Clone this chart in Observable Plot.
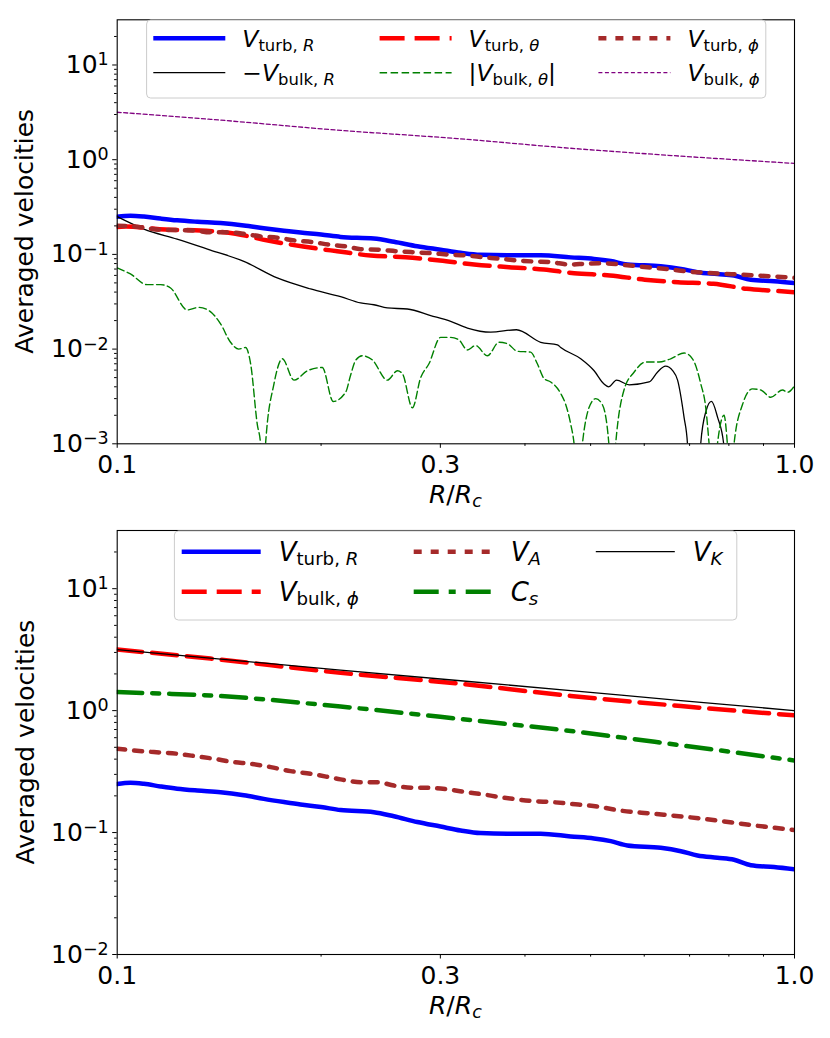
<!DOCTYPE html>
<html>
<head>
<meta charset="utf-8">
<script src="https://cdn.jsdelivr.net/npm/d3@7"></script>
<script src="https://cdn.jsdelivr.net/npm/@observablehq/plot@0.6"></script>
<style>
  body { margin: 0; background: #fff; }
  #chart { width: 830px; }
  #chart svg { display: block; }
</style>
</head>
<body>
<div id="chart"></div>
<script>
// ---------------- data ----------------
// V_turb,R (both panels)
const xTurbR = [0.100, 0.1046, 0.1095, 0.1159, 0.1226, 0.1313, 0.1421, 0.1538, 0.1646, 0.1763, 0.1865, 0.200, 0.2137, 0.2393, 0.2562, 0.2774, 0.3002, 0.3214, 0.3437, 0.3768, 0.422, 0.4674, 0.5058, 0.5354, 0.5666, 0.6345, 0.6795, 0.719, 0.7696, 0.8143, 0.862, 0.933, 1.0];
const vTurbR = [0.250, 0.256, 0.251, 0.239, 0.229, 0.221, 0.214, 0.202, 0.189, 0.178, 0.170, 0.162, 0.153, 0.147, 0.136, 0.122, 0.112, 0.104, 0.099, 0.098, 0.098, 0.093, 0.0895, 0.085, 0.0784, 0.075, 0.0703, 0.0649, 0.0621, 0.0598, 0.054, 0.0521, 0.0499];

// V_turb,theta
const xTurbTheta = [0.100, 0.1029, 0.1178, 0.1327, 0.1495, 0.1669, 0.1882, 0.2113, 0.2367, 0.2665, 0.2995, 0.3365, 0.3789, 0.4267, 0.4727, 0.534, 0.6011, 0.673, 0.7591, 0.8503, 0.9568, 1.0];
const vTurbTheta = [0.195, 0.197, 0.183, 0.179, 0.165, 0.140, 0.121, 0.108, 0.0973, 0.0934, 0.0863, 0.0782, 0.0733, 0.0692, 0.0633, 0.0599, 0.054, 0.0509, 0.049, 0.0433, 0.0408, 0.0398];

// V_turb,phi
const xTurbPhi = [0.100, 0.1082, 0.1159, 0.1298, 0.1373, 0.1454, 0.1538, 0.1628, 0.1723, 0.1834, 0.1941, 0.2054, 0.2186, 0.2288, 0.2435, 0.2587, 0.2737, 0.2903, 0.3082, 0.3271, 0.3472, 0.3684, 0.3897, 0.4124, 0.4375, 0.4647, 0.4917, 0.5203, 0.553, 0.5848, 0.6203, 0.6581, 0.6964, 0.7375, 0.7825, 0.8302, 0.8797, 0.933, 1.0];
const vTurbPhi = [0.201, 0.194, 0.182, 0.179, 0.171, 0.171, 0.165, 0.155, 0.150, 0.140, 0.135, 0.127, 0.121, 0.1135, 0.112, 0.108, 0.1054, 0.103, 0.0997, 0.0973, 0.0934, 0.0899, 0.0863, 0.0841, 0.0828, 0.0782, 0.0796, 0.0807, 0.0782, 0.075, 0.0721, 0.0692, 0.0659, 0.064, 0.0624, 0.0614, 0.0599, 0.0584, 0.0566];

// -V_bulk,R (null = negative, not drawn on a log axis)
const xBulkR = [0.100, 0.1095, 0.1226, 0.1373, 0.1538, 0.1723, 0.193, 0.2137, 0.2288, 0.2393, 0.2505, 0.2682, 0.2903, 0.3107, 0.3289, 0.356, 0.3886, 0.422, 0.4467, 0.4517, 0.4835, 0.506, 0.523, 0.532, 0.546, 0.57, 0.61, 0.6275, 0.645, 0.6613, 0.672, 0.687, 0.695, 0.70, 0.713, 0.724, 0.727, 0.74, 0.754, 0.77, 0.786, 0.79];
const vBulkR = [0.250, 0.185, 0.145, 0.111, 0.0844, 0.0564, 0.0432, 0.0358, 0.0307, 0.0294, 0.0272, 0.0265, 0.0226, 0.0196, 0.0167, 0.0151, 0.0160, 0.0118, 0.0111, 0.0104, 0.0079, 0.0059, 0.0043, 0.0040, 0.0047, 0.0042, 0.0045, 0.0057, 0.0066, 0.0059, 0.0047, 0.0019, 0.0010, 0.0002, null, 0.0002, 0.0010, 0.0022, 0.0028, 0.0019, 0.0010, 0.0002];

// |V_bulk,theta|
const xBulkTheta = [0.100, 0.1046, 0.1107, 0.1159, 0.1199, 0.1269, 0.1320, 0.1366, 0.1421, 0.1470, 0.1512, 0.1547, 0.1574, 0.1610, 0.1628, 0.1642, 0.1656, 0.1704, 0.1753, 0.1824, 0.1909, 0.2008, 0.2084, 0.2174, 0.2211, 0.2249, 0.2301, 0.2380, 0.2505, 0.2593, 0.2637, 0.2728, 0.2806, 0.2886, 0.3002, 0.3107, 0.3196, 0.3289, 0.3382, 0.3520, 0.3662, 0.3768, 0.3897, 0.4077, 0.4172, 0.4267, 0.4365, 0.4517, 0.4594, 0.4674, 0.4727, 0.4790, 0.4862, 0.4972, 0.5087, 0.5203, 0.5320, 0.5380, 0.5445, 0.5601, 0.5795, 0.6031, 0.6310, 0.6565, 0.6871, 0.7069, 0.7272, 0.7396, 0.7480, 0.7580, 0.7696, 0.7870, 0.7960, 0.8050, 0.8143, 0.8380, 0.8669, 0.8917, 0.9226, 0.9600, 0.9765, 1.000];
const vBulkTheta = [0.0719, 0.0621, 0.0479, 0.0480, 0.0442, 0.0259, 0.0276, 0.0255, 0.0185, 0.0118, 0.0100, 0.0104, 0.0070, 0.0016, 0.0010, 0.0003, 0.0010, 0.0043, 0.0079, 0.0047, 0.0059, 0.0064, 0.0028, 0.0035, 0.0053, 0.0076, 0.0085, 0.0077, 0.0047, 0.0059, 0.0055, 0.0024, 0.0050, 0.0070, 0.0133, 0.0133, 0.0125, 0.0098, 0.0109, 0.0085, 0.0118, 0.0114, 0.0095, 0.0093, 0.0070, 0.0049, 0.0045, 0.0034, 0.0026, 0.0016, 0.0010, 0.0003, 0.0010, 0.0024, 0.0030, 0.0026, 0.0010, 0.0003, 0.0010, 0.0037, 0.0057, 0.0073, 0.0073, 0.0079, 0.0091, 0.0079, 0.0043, 0.0024, 0.0010, 0.0003, 0.0010, 0.0020, 0.0010, 0.0003, 0.0010, 0.0026, 0.0038, 0.0037, 0.0031, 0.0037, 0.0035, 0.0041];

// V_bulk,phi (both panels)
const xBulkPhi = [0.100, 0.1373, 0.2137, 0.3178, 0.4674, 0.6795, 1.0];
const vBulkPhi = [3.17, 2.67, 2.04, 1.67, 1.32, 1.09, 0.914];

// V_A
const xVA = [0.100, 0.1058, 0.1133, 0.1226, 0.1313, 0.1389, 0.1486, 0.1574, 0.1685, 0.1803, 0.193, 0.2137, 0.2288, 0.2421, 0.2562, 0.2742, 0.2871, 0.3074, 0.3289, 0.3478, 0.3684, 0.3897, 0.4124, 0.4365, 0.4674, 0.5175, 0.551, 0.6168, 0.695, 0.7825, 0.8766, 1.0];
const vVA = [0.487, 0.471, 0.457, 0.443, 0.421, 0.403, 0.378, 0.367, 0.344, 0.319, 0.304, 0.273, 0.259, 0.259, 0.243, 0.233, 0.233, 0.226, 0.214, 0.205, 0.195, 0.187, 0.181, 0.178, 0.172, 0.162, 0.152, 0.143, 0.134, 0.124, 0.114, 0.105];

// C_s
const xCs = [0.100, 0.1159, 0.1373, 0.2137, 0.3178, 0.4674, 0.6795, 1.0];
const vCs = [1.42, 1.38, 1.33, 1.08, 0.86, 0.68, 0.52, 0.39];

// V_K
const xVK = [0.100, 0.2137, 0.4674, 0.6795, 1.0];
const vVK = [3.16, 2.15, 1.46, 1.21, 1.0];

// ticks
const xTicks = [0.1, 0.3, 1.0];
const xTickLabels = ["0.1", "0.3", "1.0"];
const xMinor = [0.2, 0.4, 0.5, 0.6, 0.7, 0.8, 0.9];
const yTicksTop = [1e-3, 1e-2, 1e-1, 1, 10];
const yTicksBottom = [1e-2, 1e-1, 1, 10];

// ---------------- helpers ----------------
const rows = (xs, vs) => xs.map((x, i) => ({x, v: vs[i]}));
const FONT = "DejaVu Sans";
const FS = 25;

function minorTicks(lo, hi) {
  const out = [];
  for (let e = Math.floor(Math.log10(lo)); e <= Math.ceil(Math.log10(hi)); e++)
    for (let m = 2; m <= 9; m++) { const t = m * Math.pow(10, e); if (t > lo && t < hi * 0.999) out.push(t); }
  return out;
}
const expLabel = d => "10^" + String(Math.round(Math.log10(d))).replace("-", "\u2212");

function richText(parent, x, y, parts, fs, anchor = "start", rotate = 0) {
  const t = parent.append("text").attr("x", x).attr("y", y)
    .attr("font-size", fs).attr("font-family", FONT)
    .attr("text-anchor", anchor).attr("fill", "black");
  if (rotate) t.attr("transform", `rotate(${rotate},${x},${y})`);
  let cur = 0;
  for (const p of parts) {
    const shift = p.sub ? 0.16 * fs : 0;
    const s = t.append("tspan").text(p.t).attr("dy", shift - cur);
    cur = shift;
    if (p.sub) s.attr("font-size", fs * 0.7);
    if (p.it) s.attr("font-style", "italic");
  }
  return t;
}

function sub(name, idx) { // V_{name, idx}
  return [{t: "V", it: true}, {t: name + ", ", sub: true}, {t: idx, sub: true, it: true}];
}

function panel({height, marginTop, marginBottom, yDomain, yTicks, series}) {
  return Plot.plot({
    width: 830, height, marginLeft: 116.7, marginRight: 36, marginTop, marginBottom,
    style: {fontFamily: FONT, fontSize: FS + "px", color: "black", background: "white", overflow: "visible"},
    x: {type: "log", domain: [0.1, 1]},
    y: {type: "log", domain: yDomain},
    marks: [
      ...series.map(s => Plot.line(rows(s.x, s.v), {
        x: "x", y: "v", stroke: s.stroke, strokeWidth: s.w,
        strokeDasharray: s.dash, curve: "monotone-x", clip: true
      })),
      Plot.frame({stroke: "black", strokeWidth: 1.1}),
      Plot.axisY({ticks: minorTicks(yDomain[0], yDomain[1]), tickSize: 2.6, tickFormat: () => "", label: null, strokeWidth: 1}),
      Plot.axisY({ticks: yTicks, tickSize: 4.5, tickPadding: 4, tickFormat: expLabel, label: null, fontSize: FS, strokeWidth: 1}),
      Plot.axisX({ticks: xMinor, tickSize: 2.6, tickFormat: () => "", label: null, strokeWidth: 1}),
      Plot.axisX({ticks: xTicks, tickSize: 4.5, tickPadding: 7, tickFormat: d => xTickLabels[xTicks.indexOf(d)], label: null, fontSize: FS, strokeWidth: 1})
    ]
  });
}

function superscripts(svg) {
  d3.select(svg).selectAll('[aria-label="y-axis tick label"] text').each(function () {
    const s = this.textContent;
    if (!s || s.indexOf("^") < 0) return;
    const [base, exp] = s.split("^");
    this.textContent = "";
    d3.select(this).append("tspan").text(base);
    d3.select(this).append("tspan").attr("dy", -7.5).attr("font-size", FS * 0.7).text(exp);
  });
}

function legend(svg, {box, cols, rowsY, sampleLen, textOff, fs, items}) {
  const g = d3.select(svg).append("g");
  g.append("rect").attr("x", box.x).attr("y", box.y).attr("width", box.w).attr("height", box.h)
    .attr("rx", 4).attr("fill", "white").attr("fill-opacity", 0.8).attr("stroke", "#cccccc").attr("stroke-width", 1);
  items.forEach((it, i) => {
    const c = Math.floor(i / 2), r = i % 2;
    const x0 = cols[c], y0 = rowsY[r];
    g.append("line").attr("x1", x0).attr("x2", x0 + sampleLen).attr("y1", y0).attr("y2", y0)
      .attr("stroke", it.stroke).attr("stroke-width", it.w).attr("stroke-dasharray", it.dash || null);
    richText(g, x0 + textOff, y0 + fs * 0.36, it.label, fs);
  });
}

function labels(svg, yLabelY, xLabelY) {
  const s = d3.select(svg);
  richText(s, 33.5, yLabelY, [{t: "Averaged velocities"}], FS, "middle", -90);
  richText(s, 455.4, xLabelY, [{t: "R", it: true}, {t: "/"}, {t: "R", it: true}, {t: "c", sub: true, it: true}], FS, "middle");
}

// ---------------- styles ----------------
const BLUE = "#0000ff", RED = "#ff0000", BROWN = "#a52a2a", GREEN = "#008000", PURPLE = "#800080";
const stTurbR = {stroke: BLUE, w: 4.5};
const stBulkR = {stroke: "black", w: 1.3};
const stTurbT = {stroke: RED, w: 4.5, dash: "25,10"};
const stBulkT = {stroke: GREEN, w: 1.4, dash: "7.5,3.5"};
const stTurbP = {stroke: BROWN, w: 4.5, dash: "8,9"};
const stBulkPthin = {stroke: PURPLE, w: 1.3, dash: "4,2.5"};
const stBulkPthick = {stroke: RED, w: 4.5, dash: "25,10"};
const stVA = {stroke: BROWN, w: 4.5, dash: "8,9"};
const stCs = {stroke: GREEN, w: 4.5, dash: "25,10,7,10"};
const stVK = {stroke: "black", w: 1.3};

// ---------------- top panel ----------------
const topSvg = panel({
  height: 519, marginTop: 19.3, marginBottom: 75.7,
  yDomain: [1e-3, 30], yTicks: yTicksTop,
  series: [
    {x: xTurbR, v: vTurbR, ...stTurbR},
    {x: xBulkR, v: vBulkR, ...stBulkR},
    {x: xTurbTheta, v: vTurbTheta, ...stTurbT},
    {x: xBulkTheta, v: vBulkTheta, ...stBulkT},
    {x: xTurbPhi, v: vTurbPhi, ...stTurbP},
    {x: xBulkPhi, v: vBulkPhi, ...stBulkPthin}
  ]
});
superscripts(topSvg);
labels(topSvg, 231.3, 503);
legend(topSvg, {
  box: {x: 146.6, y: 20, w: 619.2, h: 78}, cols: [153.3, 379.6, 598.4], rowsY: [38.3, 72.7],
  sampleLen: 72, textOff: 89, fs: 23.5,
  items: [
    {...stTurbR, label: sub("turb", "R")},
    {...stBulkR, label: [{t: "\u2212"}, ...sub("bulk", "R")]},
    {...stTurbT, label: sub("turb", "\u03b8")},
    {...stBulkT, label: [{t: "|"}, ...sub("bulk", "\u03b8"), {t: "|"}]},
    {...stTurbP, label: sub("turb", "\u03d5")},
    {...stBulkPthin, label: sub("bulk", "\u03d5")}
  ]
});

// ---------------- bottom panel ----------------
const OFF = 519;
const bottomSvg = panel({
  height: 519, marginTop: 11, marginBottom: 84,
  yDomain: [1e-2, 30], yTicks: yTicksBottom,
  series: [
    {x: xTurbR, v: vTurbR, ...stTurbR},
    {x: xBulkPhi, v: vBulkPhi, ...stBulkPthick},
    {x: xVA, v: vVA, ...stVA},
    {x: xCs, v: vCs, ...stCs},
    {x: xVK, v: vVK, ...stVK}
  ]
});
superscripts(bottomSvg);
labels(bottomSvg, 742 - OFF, 1013.7 - OFF);
legend(bottomSvg, {
  box: {x: 174.4, y: 531 - OFF, w: 562.4, h: 89}, cols: [181.7, 413.7, 595.8], rowsY: [551.7 - OFF, 591.7 - OFF],
  sampleLen: 79, textOff: 97, fs: 26,
  items: [
    {...stTurbR, label: sub("turb", "R")},
    {...stBulkPthick, label: sub("bulk", "\u03d5")},
    {...stVA, label: [{t: "V", it: true}, {t: "A", sub: true, it: true}]},
    {...stCs, label: [{t: "C", it: true}, {t: "s", sub: true, it: true}]},
    {...stVK, label: [{t: "V", it: true}, {t: "K", sub: true, it: true}]}
  ]
});

const chart = document.getElementById("chart");
chart.appendChild(topSvg);
chart.appendChild(bottomSvg);
</script>
</body>
</html>
